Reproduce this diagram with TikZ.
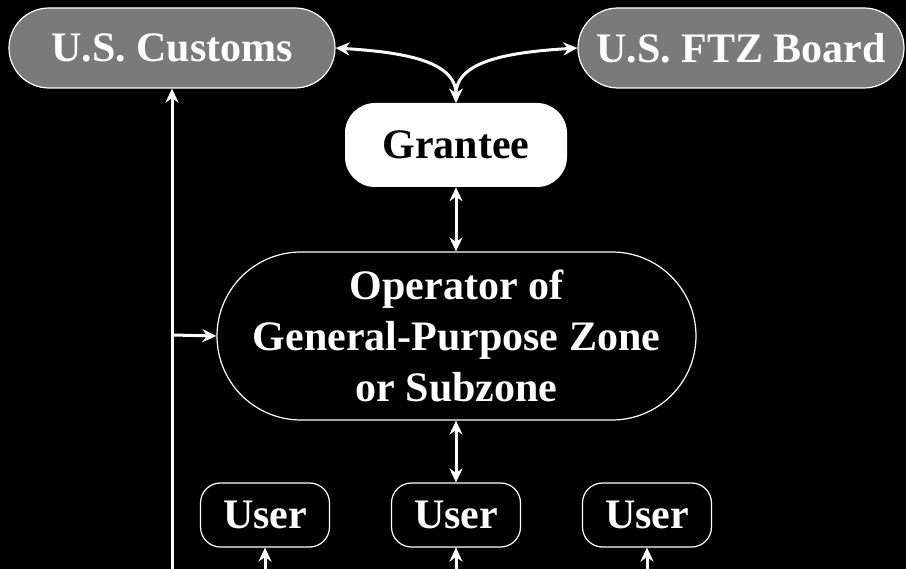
\documentclass[tikz,border=0pt]{standalone}
\usepackage{fontspec}
\setmainfont{Liberation Serif}
\usetikzlibrary{arrows.meta}
\begin{document}
\begin{tikzpicture}[x=1pt,y=-1pt,
  lbl/.style={font=\fontsize{42}{51}\selectfont\bfseries, inner sep=0pt, align=center},
  agency/.style={lbl, draw=white, line width=1.2pt, fill=white!48!black, text=white,
    minimum width=326pt, minimum height=80pt, rounded corners=40pt},
  grant/.style={lbl, fill=white, text=black, minimum width=222pt, minimum height=84pt, rounded corners=30pt},
  oper/.style={lbl, draw=white, line width=1.2pt, text=white, minimum width=479pt, minimum height=168pt, rounded corners=84pt},
  userbox/.style={lbl, draw=white, line width=1.2pt, text=white, minimum width=129pt, minimum height=64pt, rounded corners=20pt},
  conn/.style={draw=white, line width=3pt},
  tip/.style={-{Stealth[length=14pt,width=13pt]}},
  dtip/.style={{Stealth[length=14pt,width=13pt]}-{Stealth[length=14pt,width=13pt]}}
]
\useasboundingbox (0,0) rectangle (906,569);
\fill[black] (0,0) rectangle (906,569);

\node[agency] (cust) at (172,48) {U.S. Customs};
\node[agency] (ftz) at (741,48) {U.S. FTZ Board};
\node[grant] (gr) at (456,145) {Grantee};
\node[oper] (op) at (456.5,336) {Operator of\\General-Purpose Zone\\or Subzone};
\node[userbox] (u1) at (265,515) {User};
\node[userbox] (u2) at (456,515) {User};
\node[userbox] (u3) at (647,515) {User};

\coordinate (lb) at (172,569);
\coordinate (lm) at (172,335);
\coordinate (b1) at (265,569);
\coordinate (b2) at (456,569);
\coordinate (b3) at (647,569);

\draw[conn,dtip] (cust.east) .. controls (400,52) and (456,60) .. (gr.north);
\draw[conn,dtip] (ftz.west) .. controls (512,52) and (456,60) .. (gr.north);
\draw[conn,dtip] (gr.south) -- (op.north -| gr.south);
\draw[conn,dtip] (op.south -| u2.north) -- (u2.north);
\draw[conn,tip] (lb) -- (cust.south);
\draw[conn,tip] (lm) -- (op.west);
\draw[conn,tip] (b1) -- (u1.south);
\draw[conn,tip] (b2) -- (u2.south);
\draw[conn,tip] (b3) -- (u3.south);
\end{tikzpicture}
\end{document}
